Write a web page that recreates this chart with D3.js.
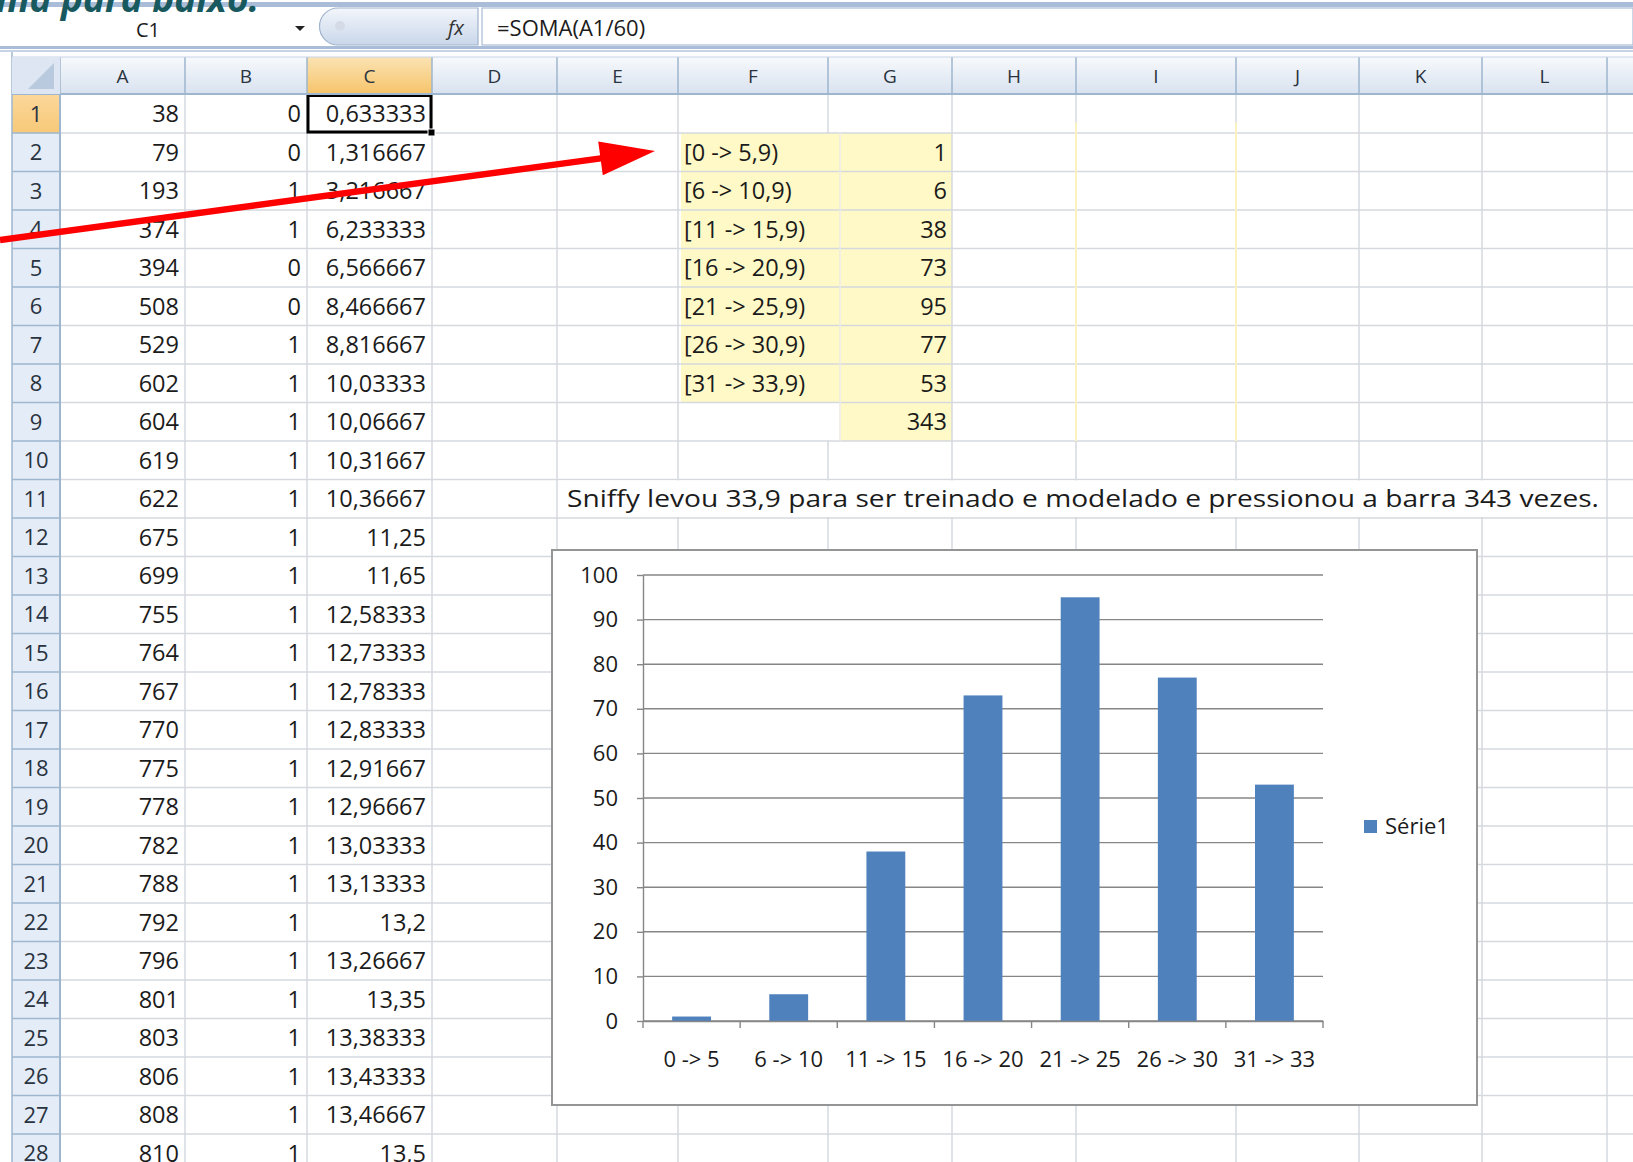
<!DOCTYPE html>
<html>
<head>
<meta charset="utf-8">
<script src="https://cdn.jsdelivr.net/npm/d3@7"></script>
<style>
  body { margin: 0; background: #fff; }
  svg text { font-family: "Open Sans", sans-serif; }
</style>
</head>
<body>
<div id="sheet"></div>
<script>
// ---- data ----
const colLetters = ["A","B","C","D","E","F","G","H","I","J","K","L","M"];
const colA = [38,79,193,374,394,508,529,602,604,619,622,675,699,755,764,767,770,775,778,782,788,792,796,801,803,806,808,810];
const colB = [0,0,1,1,0,0,1,1,1,1,1,1,1,1,1,1,1,1,1,1,1,1,1,1,1,1,1,1];
const colC = ["0,633333","1,316667","3,216667","6,233333","6,566667","8,466667","8,816667","10,03333","10,06667","10,31667","10,36667","11,25","11,65","12,58333","12,73333","12,78333","12,83333","12,91667","12,96667","13,03333","13,13333","13,2","13,26667","13,35","13,38333","13,43333","13,46667","13,5"];
const intervals = ["[0 -> 5,9)","[6 -> 10,9)","[11 -> 15,9)","[16 -> 20,9)","[21 -> 25,9)","[26 -> 30,9)","[31 -> 33,9)"];
const counts = [1,6,38,73,95,77,53];
const total = 343;
const categories = ["0 -> 5","6 -> 10","11 -> 15","16 -> 20","21 -> 25","26 -> 30","31 -> 33"];
const seriesName = "Série1";
const yTicks = [0,10,20,30,40,50,60,70,80,90,100];
const note = "Sniffy levou 33,9 para ser treinado e modelado e pressionou a barra 343 vezes.";
const formula = "=SOMA(A1/60)";
const cellName = "C1";
const heading = "ma para baixo.";

// ---- layout ----
const W = 1633, H = 1162;
const colEdges = [60,185,307,432,557,678,828,952,1076,1236,1359,1482,1607,1740];
const colL = c => colEdges[colLetters.indexOf(c)];
const colR = c => colEdges[colLetters.indexOf(c) + 1];
const rowNums = d3.range(1, 29);
const row = d3.scaleBand().domain(rowNums).range([94.5, 94.5 + 28 * 38.5]);
const rh = row.bandwidth();
const grid = "#d5d9de";
const headBorder = "#9eb6ce";

const svg = d3.select("#sheet").append("svg")
    .attr("width", W)
    .attr("height", H)
    .style("display", "block");

const defs = svg.append("defs");
function grad(id, stops) {
  const g = defs.append("linearGradient").attr("id", id)
      .attr("x1", 0).attr("y1", 0).attr("x2", 0).attr("y2", 1);
  stops.forEach(s => g.append("stop").attr("offset", s[0]).attr("stop-color", s[1]));
}
grad("colHead", [[0, "#f7f9fc"], [1, "#d8e2ef"]]);
grad("colHeadSel", [[0, "#fbe3b4"], [1, "#f6c46a"]]);
grad("rowSel", [[0, "#fbd79a"], [1, "#f7c978"]]);
grad("capsule", [[0, "#f3f6fb"], [1, "#c9d7ea"]]);

svg.append("rect").attr("width", W).attr("height", H).attr("fill", "#fff");

// yellow table cells
const gSheet = svg.append("g");
gSheet.selectAll("rect.fillF").data(intervals).join("rect")
    .attr("class", "fillF")
    .attr("x", 681).attr("y", (d, i) => row(i + 2))
    .attr("width", 840 - 681).attr("height", rh)
    .attr("fill", "#fef9c6");
gSheet.selectAll("rect.fillG").data(counts.concat([total])).join("rect")
    .attr("class", "fillG")
    .attr("x", 841).attr("y", (d, i) => row(i + 2))
    .attr("width", 952 - 841).attr("height", rh)
    .attr("fill", "#fef9c6");

// gridlines
gSheet.selectAll("line.hgrid").data(rowNums).join("line")
    .attr("class", "hgrid")
    .attr("x1", 60).attr("x2", W)
    .attr("y1", d => row(d) + rh).attr("y2", d => row(d) + rh)
    .attr("stroke", grid).attr("stroke-width", 1.5);
gSheet.selectAll("line.vgrid").data(colEdges.slice(1).filter(x => x !== 828)).join("line")
    .attr("class", "vgrid")
    .attr("x1", d => d).attr("x2", d => d)
    .attr("y1", 94).attr("y2", H)
    .attr("stroke", grid).attr("stroke-width", 1.5);
// F/G border is shifted inside the yellow table
[[94, row(2), 828], [row(2), row(10), 840], [row(10), H, 828]].forEach(s => {
  gSheet.append("line").attr("x1", s[2]).attr("x2", s[2]).attr("y1", s[0]).attr("y2", s[1])
      .attr("stroke", s[2] === 840 ? "#eceae0" : grid).attr("stroke-width", 1.5);
});
// faint yellow lines at I and J
[1076, 1236].forEach(x => {
  gSheet.append("line").attr("x1", x).attr("x2", x).attr("y1", row(1) + 28).attr("y2", row(9) + rh)
      .attr("stroke", "#fbf3bf").attr("stroke-width", 2);
});
// overflowing note hides the gridlines in row 11
gSheet.append("rect")
    .attr("x", 559).attr("y", row(11) + 1)
    .attr("width", 1605 - 559).attr("height", rh - 2)
    .attr("fill", "#fff");

// cell text
const cellFont = 23.5, ink = "#1b1b1b";
function cellText(sel, data, x, rowOf, anchor) {
  sel.selectAll(null).data(data).join("text")
      .attr("x", x)
      .attr("y", (d, i) => row(rowOf(i)) + rh / 2)
      .attr("dy", "0.36em")
      .attr("text-anchor", anchor)
      .attr("font-size", cellFont)
      .attr("fill", ink)
      .text(d => d);
}
cellText(gSheet, colA, colR("A") - 6, i => i + 1, "end");
cellText(gSheet, colB, colR("B") - 6, i => i + 1, "end");
cellText(gSheet, colC, colR("C") - 6, i => i + 1, "end");
cellText(gSheet, intervals, 684, i => i + 2, "start");
cellText(gSheet, counts.concat([total]), 947, i => i + 2, "end");

gSheet.append("text")
    .attr("x", 567).attr("y", row(11) + rh / 2).attr("dy", "0.36em")
    .attr("font-size", cellFont).attr("fill", ink)
    .attr("textLength", 1032).attr("lengthAdjust", "spacingAndGlyphs")
    .text(note);

// active cell C1
gSheet.append("rect")
    .attr("x", colL("C") + 1).attr("y", row(1) + 1)
    .attr("width", colR("C") - colL("C") - 2).attr("height", rh - 2)
    .attr("fill", "none").attr("stroke", "#000").attr("stroke-width", 3);
gSheet.append("rect")
    .attr("x", colR("C") - 4).attr("y", row(1) + rh - 4)
    .attr("width", 7).attr("height", 7).attr("fill", "#000").attr("stroke", "#fff");

// row headers
const gRows = svg.append("g");
gRows.append("rect").attr("x", 12).attr("y", 94).attr("width", 48).attr("height", H - 94).attr("fill", "#e4ecf7");
gRows.append("rect").attr("x", 12).attr("y", row(1)).attr("width", 48).attr("height", rh).attr("fill", "url(#rowSel)");
gRows.selectAll("line.rsep").data(rowNums).join("line")
    .attr("class", "rsep")
    .attr("x1", 12).attr("x2", 60)
    .attr("y1", d => row(d) + rh).attr("y2", d => row(d) + rh)
    .attr("stroke", headBorder).attr("stroke-width", 1.5);
gRows.append("line").attr("x1", 60).attr("x2", 60).attr("y1", 94).attr("y2", H).attr("stroke", headBorder).attr("stroke-width", 2);
gRows.append("line").attr("x1", 12).attr("x2", 12).attr("y1", 50).attr("y2", H).attr("stroke", headBorder).attr("stroke-width", 1.5);
gRows.selectAll("text").data(rowNums).join("text")
    .attr("x", 36).attr("y", d => row(d) + rh / 2).attr("dy", "0.36em")
    .attr("text-anchor", "middle").attr("font-size", 22).attr("fill", "#2a3340")
    .text(d => d);

// column headers
const gCols = svg.append("g");
gCols.append("rect").attr("x", 12).attr("y", 57).attr("width", W - 12).attr("height", 37).attr("fill", "url(#colHead)");
gCols.append("rect").attr("x", colL("C")).attr("y", 57).attr("width", colR("C") - colL("C")).attr("height", 37).attr("fill", "url(#colHeadSel)");
gCols.selectAll("line.csep").data(colEdges).join("line")
    .attr("class", "csep")
    .attr("x1", d => d).attr("x2", d => d).attr("y1", 57).attr("y2", 94)
    .attr("stroke", headBorder).attr("stroke-width", 1.5);
gCols.append("line").attr("x1", 12).attr("x2", W).attr("y1", 94).attr("y2", 94).attr("stroke", headBorder).attr("stroke-width", 2);
gCols.append("line").attr("x1", 12).attr("x2", W).attr("y1", 57).attr("y2", 57).attr("stroke", "#c5d3e5").attr("stroke-width", 1);
gCols.selectAll("text").data(colLetters).join("text")
    .attr("x", (d, i) => (colEdges[i] + colEdges[i + 1]) / 2)
    .attr("y", 76).attr("dy", "0.36em")
    .attr("text-anchor", "middle").attr("font-size", 19).attr("fill", "#2a3340")
    .text(d => d);
// select-all corner
gCols.append("rect").attr("x", 12).attr("y", 57).attr("width", 48).attr("height", 37).attr("fill", "#dde6f2");
gCols.append("path").attr("d", "M54,63 L54,89 L28,89 Z").attr("fill", "#b9c9de");

// formula bar
const gBar = svg.append("g");
gBar.append("rect").attr("x", 0).attr("y", 2).attr("width", W).attr("height", 5).attr("fill", "#a9bdd8");
gBar.append("rect").attr("x", 0).attr("y", 46).attr("width", W).attr("height", 3).attr("fill", "#a9bdd8");
gBar.append("rect").attr("x", 0).attr("y", 50).attr("width", W).attr("height", 2).attr("fill", "#c6d4e6");
gBar.append("rect").attr("x", 12).attr("y", 8).attr("width", 296).attr("height", 37).attr("fill", "#fff");
gBar.append("text").attr("x", 148).attr("y", 30).attr("dy", "0.36em")
    .attr("text-anchor", "middle").attr("font-size", 20).attr("fill", "#1b1b1b").text(cellName);
gBar.append("path").attr("d", "M295,26 L305,26 L300,31 Z").attr("fill", "#222");
gBar.append("path")
    .attr("d", "M338,8 L478,8 L478,45 L338,45 A18.5,18.5 0 0 1 338,8 Z")
    .attr("fill", "url(#capsule)").attr("stroke", "#9fb3cd").attr("stroke-width", 1.2);
gBar.append("circle").attr("cx", 340).attr("cy", 26).attr("r", 5).attr("fill", "#d4dbe6");
gBar.append("text").attr("x", 456).attr("y", 28).attr("dy", "0.36em")
    .attr("text-anchor", "middle").attr("font-size", 20).attr("font-style", "italic")
    .attr("font-family", "DejaVu Serif").attr("fill", "#333").text("fx");
gBar.append("rect").attr("x", 482).attr("y", 8).attr("width", W - 482).attr("height", 37)
    .attr("fill", "#fff").attr("stroke", "#a9bdd8").attr("stroke-width", 1.2);
gBar.append("text").attr("x", 497).attr("y", 28).attr("dy", "0.36em")
    .attr("font-size", 22).attr("fill", "#1b1b1b").text(formula);

// ---- chart ----
const box = { x: 552, y: 550, w: 925, h: 555 };
const plot = { left: 643, right: 1323, top: 575, bottom: 1021 };
const axisGray = "#868686";
const barColor = "#4f81bd";
const labelFont = 22;

const gChart = svg.append("g");
gChart.append("rect")
    .attr("x", box.x).attr("y", box.y).attr("width", box.w).attr("height", box.h)
    .attr("fill", "#fff").attr("stroke", "#959595").attr("stroke-width", 2);

const x = d3.scaleBand().domain(categories)
    .range([plot.left, plot.right])
    .paddingInner(0.6).paddingOuter(0.3);
const y = d3.scaleLinear().domain([0, 100]).range([plot.bottom, plot.top]);

gChart.selectAll("line.ygrid").data(yTicks).join("line")
    .attr("class", "ygrid")
    .attr("x1", plot.left).attr("x2", plot.right)
    .attr("y1", d => y(d)).attr("y2", d => y(d))
    .attr("stroke", axisGray).attr("stroke-width", 1.4);

gChart.selectAll("rect.bar").data(counts).join("rect")
    .attr("class", "bar")
    .attr("x", (d, i) => x(categories[i]))
    .attr("y", d => y(d))
    .attr("width", x.bandwidth())
    .attr("height", d => y(0) - y(d))
    .attr("fill", barColor);

const yAxis = gChart.append("g")
    .attr("transform", `translate(${plot.left},0)`)
    .call(d3.axisLeft(y).tickValues(yTicks).tickSize(6).tickSizeOuter(0).tickPadding(19));
yAxis.select(".domain").attr("stroke", axisGray).attr("stroke-width", 1.4);
yAxis.selectAll(".tick line").attr("stroke", axisGray).attr("stroke-width", 1.4);
yAxis.selectAll(".tick text").attr("font-size", labelFont).attr("fill", "#1b1b1b")
    .attr("font-family", "Open Sans, sans-serif");

const xAxis = gChart.append("g")
    .attr("transform", `translate(0,${plot.bottom})`)
    .call(d3.axisBottom(x).tickSize(0).tickSizeOuter(0).tickPadding(30));
xAxis.select(".domain").attr("stroke", axisGray).attr("stroke-width", 1.4);
xAxis.selectAll(".tick text").attr("font-size", labelFont).attr("fill", "#1b1b1b")
    .attr("font-family", "Open Sans, sans-serif");

// tick marks sit between categories
gChart.selectAll("line.xtick").data(d3.range(categories.length + 1)).join("line")
    .attr("class", "xtick")
    .attr("x1", i => plot.left + i * x.step()).attr("x2", i => plot.left + i * x.step())
    .attr("y1", plot.bottom).attr("y2", plot.bottom + 7)
    .attr("stroke", axisGray).attr("stroke-width", 1.4);

// legend
const legend = gChart.append("g").attr("transform", "translate(1364,820)");
legend.append("rect").attr("width", 13).attr("height", 13).attr("fill", barColor);
legend.append("text").attr("x", 21).attr("y", 6.5).attr("dy", "0.36em")
    .attr("font-size", labelFont).attr("fill", "#1b1b1b").text(seriesName);

// ---- red arrow annotation ----
const tip = [655, 151], tail = [0, 240];
const len = Math.hypot(tip[0] - tail[0], tip[1] - tail[1]);
const ux = (tip[0] - tail[0]) / len, uy = (tip[1] - tail[1]) / len;
const base = [tip[0] - 55 * ux, tip[1] - 55 * uy];
svg.append("line")
    .attr("x1", tail[0]).attr("y1", tail[1])
    .attr("x2", base[0] + 4 * ux).attr("y2", base[1] + 4 * uy)
    .attr("stroke", "#f00").attr("stroke-width", 6.5);
svg.append("path")
    .attr("d", `M${tip[0]},${tip[1]} L${base[0] - 17 * uy},${base[1] + 17 * ux} L${base[0] + 17 * uy},${base[1] - 17 * ux} Z`)
    .attr("fill", "#f00");

// heading cut off at the top of the screenshot
svg.append("text")
    .attr("x", -4).attr("y", 12)
    .attr("font-family", "Liberation Sans, Arial, sans-serif")
    .attr("font-size", 37).attr("font-weight", "bold").attr("font-style", "italic")
    .attr("fill", "#17595e")
    .text(heading);
</script>
</body>
</html>
